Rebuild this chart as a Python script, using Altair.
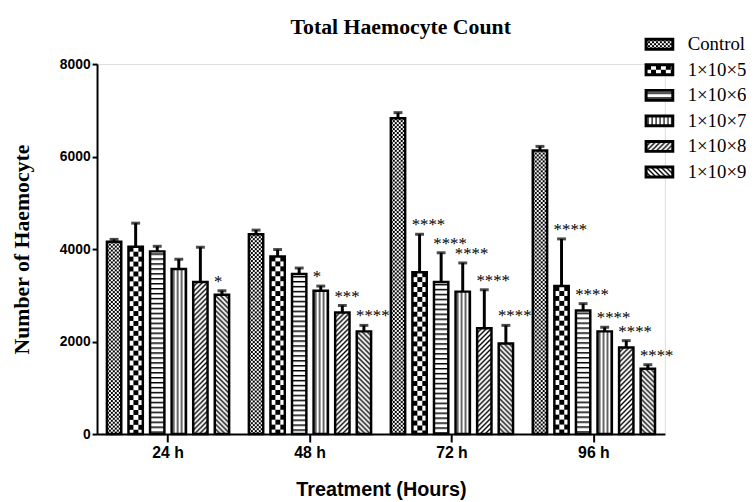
import base64
import altair as alt
import pandas as pd

# ---------------- data ----------------
times = ["24 h", "48 h", "72 h", "96 h"]
groups = ["Control", "1×10×5", "1×10×6", "1×10×7", "1×10×8", "1×10×9"]

mean_24 = [4160, 4050, 3950, 3570, 3290, 3010]
sem_24 = [50, 510, 110, 210, 750, 90]
mean_48 = [4320, 3840, 3460, 3100, 2630, 2220]
sem_48 = [90, 150, 130, 100, 150, 130]
mean_72 = [6830, 3500, 3290, 3080, 2290, 1960]
sem_72 = [120, 820, 630, 620, 830, 390]
mean_96 = [6130, 3200, 2670, 2220, 1870, 1410]
sem_96 = [90, 1020, 150, 90, 150, 90]

stars_24 = ["", "", "", "", "", "*"]
stars_48 = ["", "", "", "*", "***", "****"]
stars_72 = ["", "****", "****", "****", "****", "****"]
stars_96 = ["", "****", "****", "****", "****", "****"]

y_ticks = [0, 2000, 4000, 6000, 8000]


# ---------------- hatch patterns (style only) ----------------
def pat(w, h, inner):
    svg = ("<svg xmlns='http://www.w3.org/2000/svg' width='100%' height='100%'>"
           f"<defs><pattern id='p' patternUnits='userSpaceOnUse' width='{w}' height='{h}'>{inner}</pattern></defs>"
           "<rect width='100%' height='100%' fill='#fff'/>"
           "<rect width='100%' height='100%' fill='url(#p)'/></svg>")
    return "data:image/svg+xml;base64," + base64.b64encode(svg.encode()).decode()


patterns = [
    pat(4, 4, "<rect width='2' height='2'/><rect x='2' y='2' width='2' height='2'/>"),
    pat(10, 10, "<rect width='5' height='5'/><rect x='5' y='5' width='5' height='5'/>"),
    pat(4, 5, "<rect y='2' width='4' height='1.5'/>"),
    pat(4, 4, "<rect x='1.5' width='1.2' height='4'/>"),
    pat(5, 5, "<path d='M-1,6 L6,-1 M-1,1 L1,-1 M4,6 L6,4' stroke='#000' stroke-width='1.4'/>"),
    pat(5, 5, "<path d='M-1,-1 L6,6 M-1,4 L1,6 M4,-1 L6,1' stroke='#000' stroke-width='1.4'/>"),
]

rows = []
for t, means, sems, stars in zip(times, [mean_24, mean_48, mean_72, mean_96],
                                 [sem_24, sem_48, sem_72, sem_96],
                                 [stars_24, stars_48, stars_72, stars_96]):
    for g, m, s, st, p in zip(groups, means, sems, stars, patterns):
        rows.append({"time": t, "group": g, "mean": m, "top": m + s, "star": st, "img": p})
df = pd.DataFrame(rows)
leg = pd.DataFrame({"group": groups, "img": patterns})

SANS = "Liberation Sans"
SERIF = "Liberation Serif"

X = alt.X("time:N", scale=alt.Scale(domain=times, paddingInner=0, paddingOuter=0),
          axis=alt.Axis(title="Treatment (Hours)", labelAngle=0, labelFont=SANS, labelFontSize=16,
                        labelFontWeight="bold", labelColor="black", labelPadding=3,
                        titleFont=SANS, titleFontSize=20, titleFontWeight="bold", titleColor="black",
                        titlePadding=19, domainColor="black", domainWidth=2, tickColor="black",
                        tickWidth=2, tickSize=8))
XO = alt.XOffset("group:N", scale=alt.Scale(domain=groups, paddingInner=0.335, paddingOuter=0.4575))
Y = alt.Y("mean:Q", scale=alt.Scale(domain=[0, 8000], nice=False),
          axis=alt.Axis(values=y_ticks, title="Number of Haemocyte", grid=False, format="d",
                        labelFont=SANS, labelFontSize=14, labelFontWeight="bold", labelColor="black",
                        labelPadding=2, titleFont=SERIF, titleFontSize=22, titleFontWeight="bold",
                        titleColor="black", titlePadding=26, domainColor="black", domainWidth=2,
                        tickColor="black", tickWidth=2, tickSize=5))

base = alt.Chart(df)
fills = base.mark_image(aspect=False).encode(x=X, xOffset=XO, y=Y, y2=alt.datum(0), url="img:N")
outline = base.mark_bar(fillOpacity=0, stroke="black", strokeWidth=2.5).encode(x=X, xOffset=XO, y=Y)
stem = base.mark_rule(color="black", strokeWidth=3).encode(x=X, xOffset=XO, y=Y, y2="top:Q")
cap = base.mark_tick(color="black", thickness=3, size=9).encode(x=X, xOffset=XO, y=alt.Y("top:Q"))
stars = base.mark_text(font=SERIF, fontSize=17, fill="black", align="left", baseline="alphabetic",
                       dy=-4, dx=-8).encode(x=X, xOffset=XO, y=alt.Y("top:Q"), text="star:N")

main = alt.layer(fills, outline, stem, cap, stars)

LY = alt.Y("group:N", scale=alt.Scale(domain=groups, range=[-33, 122], paddingInner=0, paddingOuter=0),
           axis=None)
lbase = alt.Chart(leg)
l_img = lbase.mark_image(aspect=False, height=10).encode(x=alt.value(555), x2=alt.value(582), y=LY,
                                                         url="img:N")
l_box = lbase.mark_rect(height=10, fillOpacity=0, stroke="black", strokeWidth=3).encode(
    x=alt.value(555), x2=alt.value(582), y=LY)
l_txt = lbase.mark_text(font=SERIF, fontSize=19, align="left", baseline="middle", fill="black").encode(
    x=alt.value(597), y=LY, text="group:N")
legend = alt.layer(l_img, l_box, l_txt)

chart = alt.layer(main, legend).resolve_scale(y="independent").properties(
    width=574, height=374,
    title=alt.TitleParams("Total Haemocyte Count", font=SERIF, fontSize=22, fontWeight="bold",
                          color="black", anchor="middle", frame="group", dx=20, baseline="alphabetic",
                          offset=-21),
    autosize=alt.AutoSizeParams(type="none"),
    padding={"left": 90, "top": 54, "right": 82, "bottom": 66},
).configure_view(stroke=None).configure(background="white")

chart.save("out.html", embed_options={"renderer": "svg", "actions": False})
